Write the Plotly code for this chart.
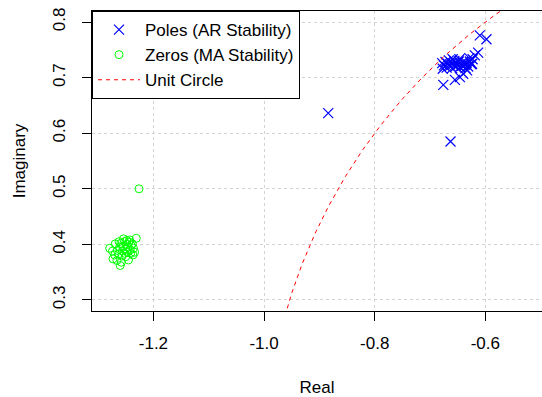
import numpy as np
import plotly.graph_objects as go

# Roots of the AR polynomial (poles), real and imaginary parts
pole_re = [-0.884, -0.663, -0.676, -0.610, -0.598, -0.613, -0.619, -0.646, -0.655, -0.640,
           -0.633, -0.675, -0.672, -0.670, -0.668, -0.666, -0.664, -0.662, -0.660, -0.658,
           -0.656, -0.654, -0.652, -0.650, -0.648, -0.646, -0.644, -0.642, -0.640, -0.637,
           -0.634, -0.631, -0.628, -0.625, -0.623, -0.677, -0.678, -0.659, -0.647, -0.636,
           -0.629, -0.624]
pole_im = [0.636, 0.585, 0.687, 0.776, 0.769, 0.745, 0.740, 0.701, 0.696, 0.707,
           0.713, 0.722, 0.728, 0.718, 0.725, 0.731, 0.721, 0.727, 0.717, 0.724,
           0.730, 0.720, 0.726, 0.722, 0.729, 0.719, 0.725, 0.721, 0.728, 0.723,
           0.726, 0.720, 0.729, 0.724, 0.733, 0.716, 0.726, 0.733, 0.733, 0.717,
           0.735, 0.725]

# Roots of the MA polynomial (zeros), real and imaginary parts
zero_re = [-1.226, -1.231, -1.260, -1.273, -1.274, -1.269, -1.279, -1.266, -1.245, -1.237,
           -1.252, -1.248, -1.244, -1.240, -1.255, -1.250, -1.246, -1.242, -1.256, -1.252,
           -1.247, -1.259, -1.243, -1.238, -1.236, -1.261, -1.257, -1.263, -1.250, -1.241,
           -1.254, -1.248, -1.265, -1.270, -1.262, -1.258, -1.234]
zero_im = [0.500, 0.411, 0.362, 0.374, 0.388, 0.401, 0.393, 0.371, 0.372, 0.381,
           0.405, 0.400, 0.404, 0.398, 0.396, 0.392, 0.395, 0.390, 0.388, 0.384,
           0.386, 0.402, 0.408, 0.401, 0.393, 0.395, 0.379, 0.383, 0.378, 0.384,
           0.410, 0.407, 0.389, 0.381, 0.405, 0.368, 0.386]

x_ticks = [-1.2, -1.0, -0.8, -0.6]
x_tick_text = ["-1.2", "-1.0", "-0.8", "-0.6"]
y_ticks = [0.3, 0.4, 0.5, 0.6, 0.7, 0.8]
y_tick_text = ["0.3", "0.4", "0.5", "0.6", "0.7", "0.8"]

theta = np.linspace(0, np.pi, 721)
circle_x = np.cos(theta)
circle_y = np.sin(theta)

FONT = "Liberation Sans, Arial, sans-serif"

fig = go.Figure()
fig.add_trace(go.Scatter(
    x=pole_re, y=pole_im, mode="markers", name="Poles (AR Stability)",
    marker=dict(symbol="x-thin", size=10, color="blue",
                line=dict(color="blue", width=1.2)),
))
fig.add_trace(go.Scatter(
    x=zero_re, y=zero_im, mode="markers", name="Zeros (MA Stability)",
    marker=dict(symbol="circle-open", size=8, color="#00FF00",
                line=dict(color="#00FF00", width=1)),
))
fig.add_trace(go.Scatter(
    x=circle_x, y=circle_y, mode="lines", name="Unit Circle",
    line=dict(color="red", width=1, dash="4px,4px"),
))

axis_common = dict(
    showline=True, linecolor="black", linewidth=1,
    ticks="outside", ticklen=9, tickcolor="black", tickwidth=1,
    showgrid=True, gridcolor="#D3D3D3", griddash="dot", gridwidth=1,
    zeroline=False, tickfont=dict(family=FONT, size=17, color="black"),
)

fig.update_layout(
    width=542, height=397,
    margin=dict(l=92, r=0, t=11, b=86),
    paper_bgcolor="white", plot_bgcolor="white",
    font=dict(family=FONT, size=17, color="black"),
    showlegend=True,
    legend=dict(
        x=0, y=1, xanchor="left", yanchor="top",
        bgcolor="white", bordercolor="black", borderwidth=1,
        font=dict(family=FONT, size=17, color="black"),
        itemwidth=42, tracegroupgap=0,
    ),
    xaxis=dict(
        range=[-1.311, -0.4976], tickvals=x_ticks, ticktext=x_tick_text,
        mirror=True, ticklabelstandoff=8,
        title=dict(text="Real", standoff=30, font=dict(family=FONT, size=17)),
        **axis_common,
    ),
    yaxis=dict(
        range=[0.2802, 0.8198], tickvals=y_ticks, ticktext=y_tick_text,
        tickangle=-90, ticklabelstandoff=10,
        title=dict(text="Imaginary", standoff=20, font=dict(family=FONT, size=17)),
        **axis_common,
    ),
)

fig.write_html("out.html")
